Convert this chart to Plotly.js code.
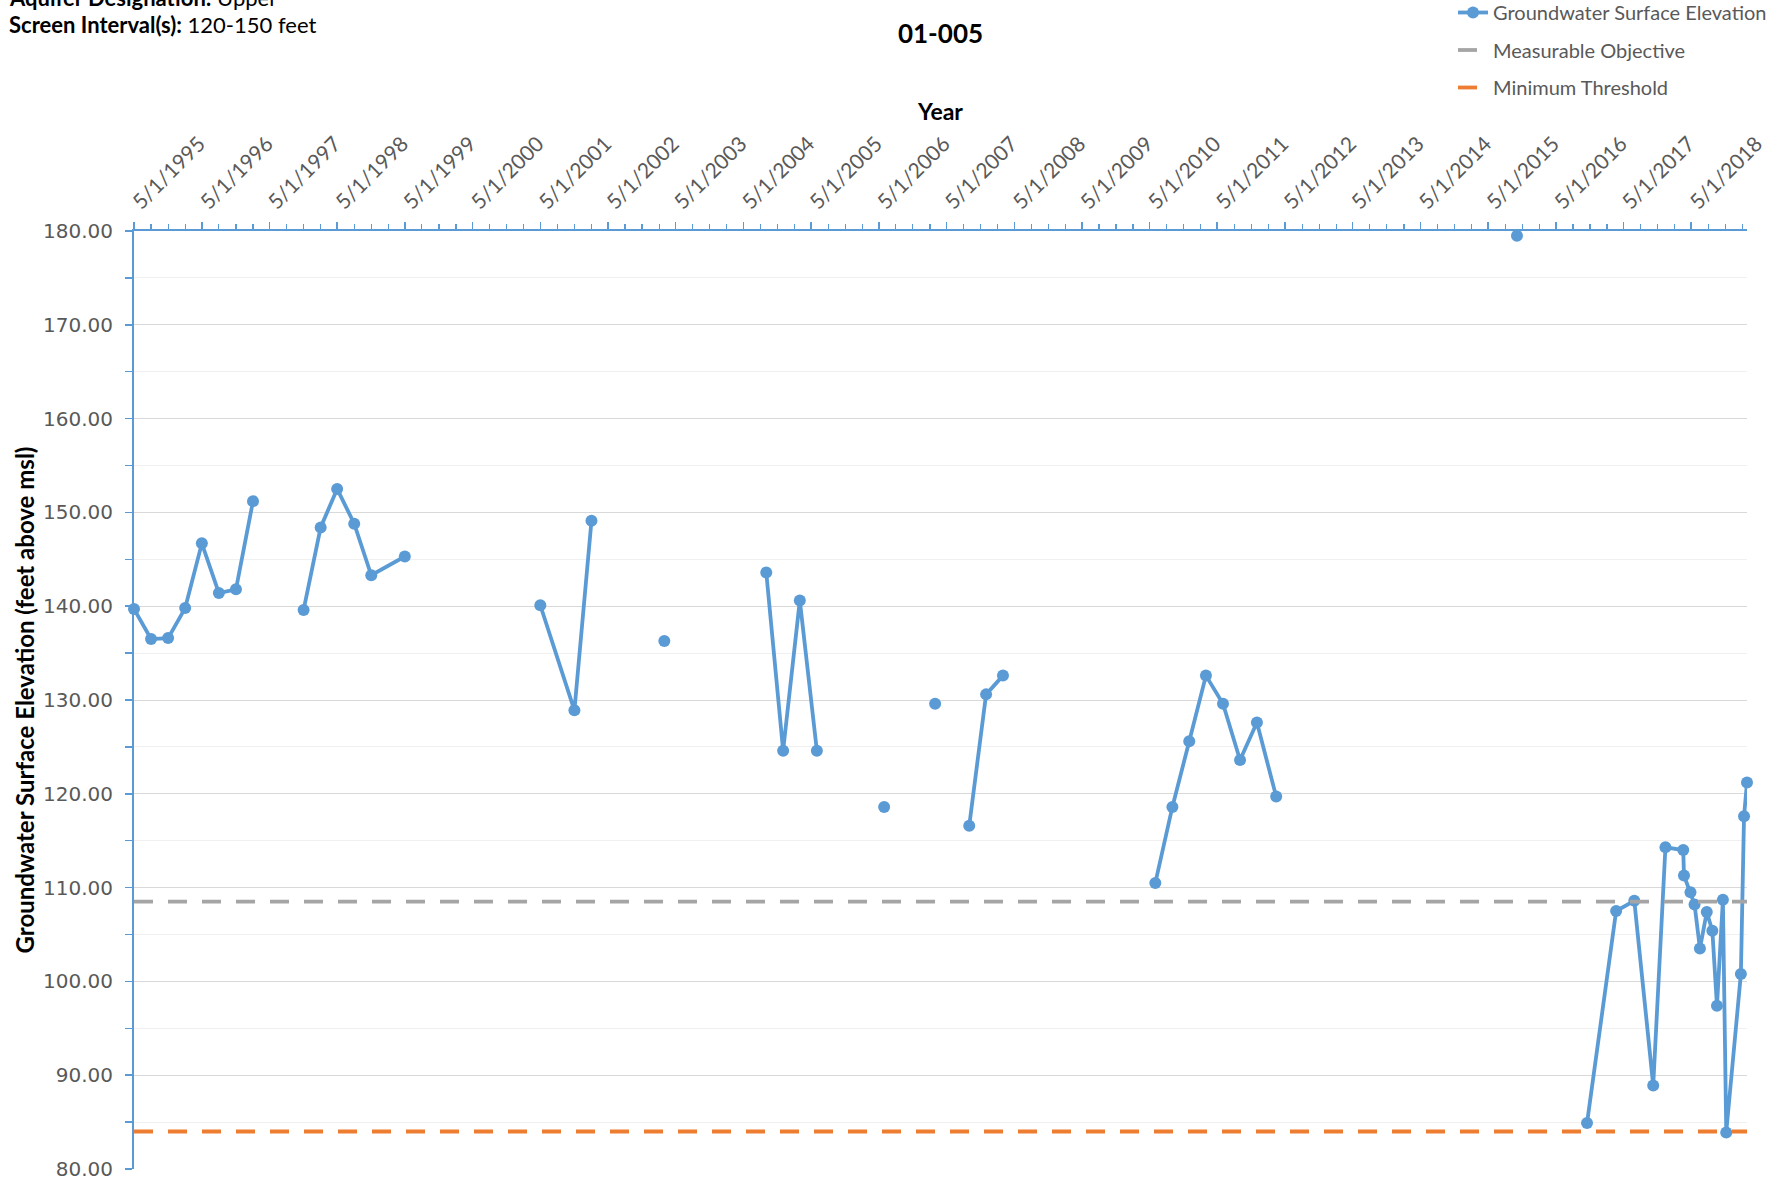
<!DOCTYPE html>
<html>
<head>
<meta charset="utf-8">
<script src="https://cdn.plot.ly/plotly-3.0.1.min.js"></script>
<style>
  html, body { margin: 0; padding: 0; background: #ffffff; }
  #chart { width: 1787px; height: 1183px; }
</style>
</head>
<body>
<div id="chart"></div>
<script>
// ---- Data ----
const seriesName = 'Groundwater Surface Elevation';
const measureDates = [
  '1995-05-01','1995-08-01','1995-11-01','1996-02-01','1996-05-01','1996-08-01','1996-11-01','1997-02-01',
  '1997-05-01',
  '1997-11-01','1998-02-01','1998-05-01','1998-08-01','1998-11-01','1999-05-01',
  '2000-05-01',
  '2001-05-01','2001-11-01','2002-02-01',
  '2002-08-01',
  '2003-03-01',
  '2003-09-01',
  '2004-09-01','2004-12-01','2005-03-01','2005-06-01',
  '2005-12-01',
  '2006-05-30',
  '2006-09-01',
  '2007-03-01',
  '2007-06-01',
  '2007-09-01','2007-12-01','2008-03-01',
  '2009-03-01',
  '2010-06-01','2010-09-01','2010-12-01','2011-03-01','2011-06-01','2011-09-01','2011-12-01','2012-03-14',
  '2014-01-01',
  '2015-10-04',
  '2016-03-01',
  '2016-10-16','2017-03-22','2017-06-28','2017-10-08','2017-12-13','2018-03-19','2018-03-23','2018-04-27',
  '2018-05-19','2018-06-17','2018-07-24','2018-08-23','2018-09-17','2018-10-19','2018-11-06','2019-01-24',
  '2019-02-10','2019-02-26'
];
const elevations = [
  139.7, 136.5, 136.6, 139.8, 146.7, 141.4, 141.8, 151.2,
  null,
  139.6, 148.4, 152.5, 148.8, 143.3, 145.3,
  null,
  140.1, 128.9, 149.1,
  null,
  136.3,
  null,
  143.6, 124.6, 140.6, 124.6,
  null,
  118.6,
  null,
  129.6,
  null,
  116.6, 130.6, 132.6,
  null,
  110.5, 118.6, 125.6, 132.6, 129.6, 123.6, 127.6, 119.7,
  null,
  179.5,
  null,
  84.9, 107.5, 108.6, 88.9, 114.3, 114.0, 111.3, 109.5,
  108.2, 103.5, 107.4, 105.4, 97.4, 108.7, 83.9, 100.8,
  117.6, 121.2
];
const objectiveName = 'Measurable Objective';
const objectiveValue = [108.5, 108.5];
const thresholdName = 'Minimum Threshold';
const thresholdValue = [84.0, 84.0];
const axisStart = '1995-05-01';
const axisEnd = '2019-02-26';
const yRange = [80, 180];
const chartTitle = '01-005';
const xTitle = 'Year';
const yTitle = 'Groundwater Surface Elevation (feet above msl)';
const infoLine1 = '<b>Aquifer Designation:</b> Upper';
const infoLine2 = '<b>Screen Interval(s):</b> 120-150 feet';

// ---- Styling ----
const blue = '#5B9BD5';
const gray = '#A5A5A5';
const orange = '#ED7D31';
const textGray = '#595959';
const sans = 'Lato, "Liberation Sans", sans-serif';

// plot area in pixels
const W = 1787, H = 1183;
const L = 134, R = 40, T = 231, B = 14;
const plotW = W - L - R, plotH = H - T - B;
const px2paperX = (x) => (x - L) / plotW;
const px2paperY = (y) => (H - B - y) / plotH;

const traces = [
  {
    type: 'scatter', mode: 'lines+markers', name: seriesName,
    x: measureDates, y: elevations, connectgaps: false, cliponaxis: false,
    line: { color: blue, width: 3.8 },
    marker: { color: blue, size: 12 },
    legendgroup: 'g1'
  },
  {
    type: 'scatter', mode: 'lines', name: objectiveName,
    x: [axisStart, axisEnd], y: objectiveValue,
    line: { color: gray, width: 3.8, dash: '19px,15px' },
    legendgroup: 'g2'
  },
  {
    type: 'scatter', mode: 'lines', name: thresholdName,
    x: [axisStart, axisEnd], y: thresholdValue,
    line: { color: orange, width: 3.8, dash: '19px,15px' },
    legendgroup: 'g3'
  }
];

const layout = {
  width: W, height: H,
  margin: { l: L, r: R, t: T, b: B, autoexpand: false },
  paper_bgcolor: '#ffffff', plot_bgcolor: '#ffffff',
  font: { family: sans, color: textGray },
  title: {
    text: chartTitle,
    font: { family: sans, size: 26, color: '#000000', weight: 'bold' },
    xref: 'paper', x: 0.5, xanchor: 'center',
    yref: 'container', y: 1 - 34 / H, yanchor: 'middle'
  },
  showlegend: true,
  legend: {
    x: px2paperX(1453), xanchor: 'left',
    y: px2paperY(-7), yanchor: 'top',
    traceorder: 'grouped', tracegroupgap: 8.5,
    bgcolor: 'rgba(0,0,0,0)',
    font: { family: sans, size: 20, color: textGray }
  },
  xaxis: {
    type: 'date', side: 'top',
    range: [axisStart, axisEnd],
    tick0: axisStart, dtick: 'M12',
    tickformat: '%-m/%-d/%Y', tickangle: -45,
    tickfont: { family: sans, size: 21, color: textGray },
    ticks: 'outside', ticklen: 7, tickwidth: 1.5, tickcolor: blue,
    minor: { tick0: axisStart, dtick: 'M3', ticks: 'outside', ticklen: 5, tickwidth: 1.2, tickcolor: blue, showgrid: false },
    showline: true, linecolor: blue, linewidth: 2,
    showgrid: false, zeroline: false,
    title: { text: xTitle, font: { family: sans, size: 23, color: '#000000', weight: 'bold' }, standoff: 4 }
  },
  yaxis: {
    range: yRange, dtick: 10, tick0: 80,
    tickformat: '.2f',
    tickfont: { family: '"DejaVu Sans", Verdana, sans-serif', size: 20, color: textGray },
    ticks: 'outside', ticklen: 7, tickwidth: 1.5, tickcolor: blue,
    ticklabelstandoff: 8,
    showline: true, linecolor: blue, linewidth: 2,
    showgrid: true, gridcolor: '#D9D9D9', gridwidth: 1,
    zeroline: false,
    minor: { dtick: 5, showgrid: true, gridcolor: '#F0F0F0', gridwidth: 1, ticks: 'outside', ticklen: 7, tickwidth: 1.5, tickcolor: blue },
    title: { text: yTitle, font: { family: sans, size: 24, color: '#000000', weight: 'bold' }, standoff: 2 }
  },
  annotations: [
    {
      text: infoLine1, showarrow: false,
      xref: 'paper', yref: 'paper',
      x: px2paperX(7), xanchor: 'left',
      y: px2paperY(-3), yanchor: 'middle',
      font: { family: sans, size: 22, color: '#000000' }
    },
    {
      text: infoLine2, showarrow: false,
      xref: 'paper', yref: 'paper',
      x: px2paperX(7), xanchor: 'left',
      y: px2paperY(24), yanchor: 'middle',
      font: { family: sans, size: 22, color: '#000000' }
    }
  ]
};

Plotly.newPlot('chart', traces, layout, { staticPlot: true, displayModeBar: false });
</script>
</body>
</html>
